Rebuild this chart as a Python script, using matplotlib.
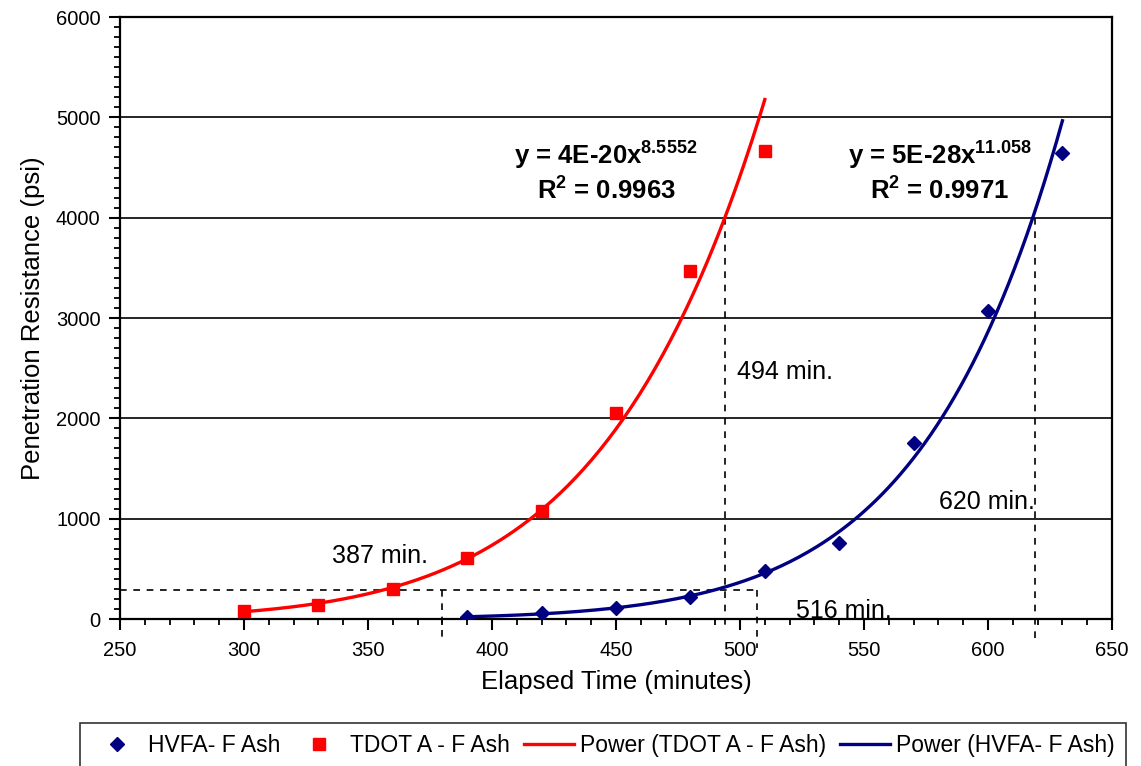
import numpy as np
import matplotlib.pyplot as plt
from matplotlib.ticker import MultipleLocator

plt.rcParams['font.family'] = ['Liberation Sans', 'DejaVu Sans']
plt.rcParams['mathtext.fontset'] = 'custom'
plt.rcParams['mathtext.rm'] = 'Liberation Sans'
plt.rcParams['mathtext.bf'] = 'Liberation Sans:bold'

# measured data
tdot_t = [300, 330, 360, 390, 420, 450, 480, 510]
tdot_p = [80, 140, 300, 610, 1080, 2055, 3470, 4665]
hvfa_t = [390, 420, 450, 480, 510, 540, 570, 600, 630]
hvfa_p = [20, 60, 110, 220, 480, 758, 1755, 3070, 4648]

# set-time markers
set_level = 285
set_times_low = [380, 507]
set_times_high = [494, 619]
high_level = 4000


def power_fit(x, y):
    # same as an Excel power trendline: linear fit in log-log space
    b, ln_a = np.polyfit(np.log(x), np.log(y), 1)
    xs = np.linspace(min(x), max(x), 200)
    return xs, np.exp(ln_a) * xs ** b


fig = plt.figure(figsize=(11.41, 7.66), dpi=100)
ax = fig.add_axes([0.1052, 0.1919, 0.8694, 0.7859])

navy = '#000080'
red = '#ff0000'

ax.grid(axis='y', which='major', color='black', linewidth=1.2)
ax.set_axisbelow(True)

xs, ys = power_fit(tdot_t, tdot_p)
ax.plot(xs, ys, color=red, linewidth=2.4, label='Power (TDOT A - F Ash)', zorder=3)
xs, ys = power_fit(hvfa_t, hvfa_p)
ax.plot(xs, ys, color=navy, linewidth=2.4, label='Power (HVFA- F Ash)', zorder=3)

ax.plot(hvfa_t, hvfa_p, 'D', color=navy, markersize=7.5, linestyle='none',
        label='HVFA- F Ash', zorder=4)
ax.plot(tdot_t, tdot_p, 's', color=red, markersize=8.5, linestyle='none',
        label='TDOT A - F Ash', zorder=4)

# dashed guide lines
dash = dict(color='black', linewidth=1.2, linestyle=(0, (4, 4)), clip_on=False, zorder=2)
ax.plot([250, set_times_low[1]], [set_level, set_level], **dash)
ax.plot([set_times_low[0], set_times_low[0]], [set_level, -190], **dash)
ax.plot([set_times_low[1], set_times_low[1]], [set_level, -290], **dash)
ax.plot([set_times_high[0], set_times_high[0]], [high_level, -110], **dash)
ax.plot([set_times_high[1], set_times_high[1]], [high_level, -190], **dash)

ax.text(355, 628, '387 min.', fontsize=18, ha='center', va='center')
ax.text(518, 2463, '494 min.', fontsize=18, ha='center', va='center')
ax.text(542, 80, '516 min.', fontsize=18, ha='center', va='center')
ax.text(599.5, 1166, '620 min.', fontsize=18, ha='center', va='center')

ax.text(446, 4626, r'y = 4E-20x$^{\mathbf{8.5552}}$', fontsize=18.5, fontweight='bold',
        ha='center', va='center')
ax.text(446, 4277, r'R$^{\mathbf{2}}$ = 0.9963', fontsize=18.5, fontweight='bold',
        ha='center', va='center')
ax.text(580.5, 4626, r'y = 5E-28x$^{\mathbf{11.058}}$', fontsize=18.5, fontweight='bold',
        ha='center', va='center')
ax.text(580.5, 4277, r'R$^{\mathbf{2}}$ = 0.9971', fontsize=18.5, fontweight='bold',
        ha='center', va='center')

ax.set_xlim(250, 650)
ax.set_ylim(0, 6000)
ax.xaxis.set_major_locator(MultipleLocator(50))
ax.xaxis.set_minor_locator(MultipleLocator(10))
ax.yaxis.set_major_locator(MultipleLocator(1000))
ax.yaxis.set_minor_locator(MultipleLocator(100))
ax.tick_params(which='major', direction='out', length=8, width=1.5, labelsize=14.5, color='black')
ax.tick_params(which='minor', direction='out', length=4.5, width=1.3, color='black')
ax.tick_params(axis='x', pad=8)
ax.tick_params(axis='y', pad=6)
for s in ax.spines.values():
    s.set_linewidth(1.6)
    s.set_color('black')

ax.set_xlabel('Elapsed Time (minutes)', fontsize=18.5, labelpad=7)
ax.set_ylabel('Penetration Resistance (psi)', fontsize=18.5, labelpad=8)

handles, labels = ax.get_legend_handles_labels()
order = [2, 3, 0, 1]
leg = fig.legend([handles[i] for i in order], [labels[i] for i in order],
                 loc='upper left', bbox_to_anchor=(80 / 1141, 1 - 723 / 766),
                 borderaxespad=0, ncol=4, fontsize=16.5, frameon=True, fancybox=False,
                 edgecolor='black', handlelength=2.2, handletextpad=0.25,
                 columnspacing=0.6, borderpad=0.5)
leg.get_frame().set_linewidth(1.2)

fig.savefig('out.png', dpi=100)
